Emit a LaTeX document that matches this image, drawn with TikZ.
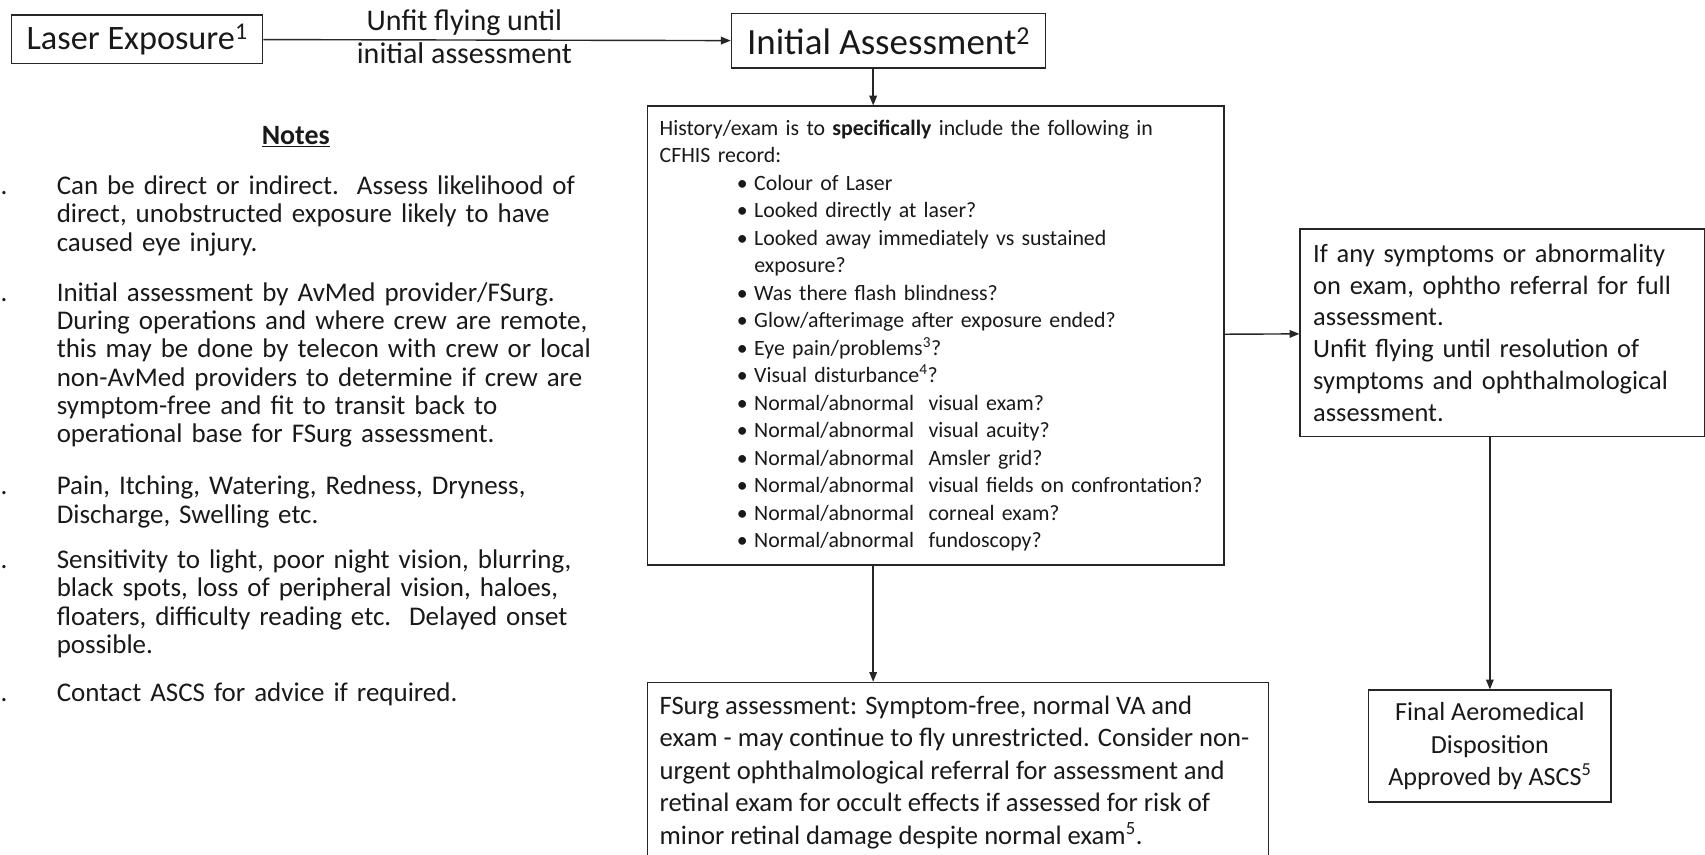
\documentclass[tikz,border=0pt]{standalone}
\usepackage{fontspec}
\setmainfont{Carlito}
\usetikzlibrary{arrows.meta}

\begin{document}
\begin{tikzpicture}[x=1pt,y=-1pt,
    box/.style={draw=black!85,line width=1.3pt,inner sep=0pt,anchor=north west,text=black!90},
    flow/.style={draw=black!85,line width=1.3pt,-{Triangle[length=9pt,width=7pt]}},
    note/.style={font=\fontsize{24.8}{26}\selectfont,text=black!90,inner sep=0pt},
    hist text/.style={font=\fontsize{20.1}{25.27}\selectfont},
    mid text/.style={font=\fontsize{24.3}{29.4}\selectfont}]
    \useasboundingbox (0,0) rectangle (1568,786.3);
    \clip (0,0) rectangle (1568,786.3);

    % flow boxes
    \node[box, font=\fontsize{31.5}{34}\selectfont, minimum width=231pt, minimum height=45pt] (laser) at (10,13) {Laser Exposure\textsuperscript{1}};
    \node[box, font=\fontsize{34}{38}\selectfont, minimum width=289pt, minimum height=50pt] (initial) at (672,12) {Initial Assessment\textsuperscript{2}};
    \node[box, hist text, minimum width=530pt, minimum height=422pt, text width=508pt, inner xsep=11pt, align=left] (hist) at (595,97) {%
        History/exam is to \textbf{specifically} include the following in\\
        CFHIS record:\\
        \hspace*{71pt}\makebox[16pt][l]{\textbullet}Colour of Laser\\
        \hspace*{71pt}\makebox[16pt][l]{\textbullet}Looked directly at laser?\\
        \hspace*{71pt}\makebox[16pt][l]{\textbullet}Looked away immediately vs sustained\\
        \hspace*{87pt}exposure?\\
        \hspace*{71pt}\makebox[16pt][l]{\textbullet}Was there flash blindness?\\
        \hspace*{71pt}\makebox[16pt][l]{\textbullet}Glow/afterimage after exposure ended?\\
        \hspace*{71pt}\makebox[16pt][l]{\textbullet}Eye pain/problems\textsuperscript{3}?\\
        \hspace*{71pt}\makebox[16pt][l]{\textbullet}Visual disturbance\textsuperscript{4}?\\
        \hspace*{71pt}\makebox[16pt][l]{\textbullet}Normal/abnormal\ \ visual exam?\\
        \hspace*{71pt}\makebox[16pt][l]{\textbullet}Normal/abnormal\ \ visual acuity?\\
        \hspace*{71pt}\makebox[16pt][l]{\textbullet}Normal/abnormal\ \ Amsler grid?\\
        \hspace*{71pt}\makebox[16pt][l]{\textbullet}Normal/abnormal\ \ visual fields on confrontation?\\
        \hspace*{71pt}\makebox[16pt][l]{\textbullet}Normal/abnormal\ \ corneal exam?\\
        \hspace*{71pt}\makebox[16pt][l]{\textbullet}Normal/abnormal\ \ fundoscopy?};
    \node[box, mid text, minimum width=372pt, minimum height=191pt, text width=348pt, inner xsep=12pt, align=left] (ophtho) at (1195,210) {%
        If any symptoms or abnormality\\
        on exam, ophtho referral for full\\
        assessment.\\
        Unfit flying until resolution of\\
        symptoms and ophthalmological\\
        assessment.};
    \node[box, font=\fontsize{24}{30}\selectfont, minimum width=223pt, minimum height=103pt, align=center] (final) at (1258,634) {%
        Final Aeromedical\\
        Disposition\\
        Approved by ASCS\textsuperscript{5}};
    \node[box, font=\fontsize{24.5}{30}\selectfont, inner xsep=11pt, inner ysep=12pt] (fsurg) at (595,627) {%
        \parbox[c][260pt][t]{549pt}{\raggedright
        FSurg assessment: Symptom-free, normal VA and\\
        exam - may continue to fly unrestricted. Consider non-\\
        urgent ophthalmological referral for assessment and\\
        retinal exam for occult effects if assessed for risk of\\
        minor retinal damage despite normal exam\textsuperscript{5}.}};

    % connectors
    \coordinate (spine) at (803,0);
    \path (laser) edge[flow] node[pos=0.43, yshift=3pt, align=center, text=black!90, font=\fontsize{27.6}{31}\selectfont] {Unfit flying until\\initial assessment} (initial);
    \draw[flow] (initial.south -| spine) -- (hist.north -| spine);
    \draw[flow] (hist.south -| spine) -- (fsurg.north -| spine);
    \path (hist) edge[flow] (ophtho);
    \draw[flow] (ophtho.south -| final.north) -- (final.north);

    % notes
    \node[note, font=\fontsize{25.7}{26}\selectfont\bfseries] (notes) at (272,126) {\underline{Notes}};
    \node[note, anchor=base east] (k1) at (7,179) {1.};
    \node[note, anchor=base east] (k2) at (7,277) {2.};
    \node[note, anchor=base east] (k3) at (7,455) {3.};
    \node[note, anchor=base east] (k4) at (7,523) {4.};
    \node[note, anchor=base east] (k5) at (7,645) {5.};
    \node[note, anchor=base west, text width=500pt, align=left] (n1) at (52,179) {%
        Can be direct or indirect.\ \ Assess likelihood of\\
        direct, unobstructed exposure likely to have\\
        caused eye injury.};
    \node[note, anchor=base west, text width=500pt, align=left] (n2) at (52,277) {%
        Initial assessment by AvMed provider/FSurg.\\
        During operations and where crew are remote,\\
        this may be done by telecon with crew or local\\
        non-AvMed providers to determine if crew are\\
        symptom-free and fit to transit back to\\
        operational base for FSurg assessment.};
    \node[note, anchor=base west, text width=500pt, align=left] (n3) at (52,455) {%
        Pain, Itching, Watering, Redness, Dryness,\\
        Discharge, Swelling etc.};
    \node[note, anchor=base west, text width=500pt, align=left] (n4) at (52,523) {%
        Sensitivity to light, poor night vision, blurring,\\
        black spots, loss of peripheral vision, haloes,\\
        floaters, difficulty reading etc.\ \ Delayed onset\\
        possible.};
    \node[note, anchor=base west, text width=500pt, align=left] (n5) at (52,645) {%
        Contact ASCS for advice if required.};
\end{tikzpicture}
\end{document}
